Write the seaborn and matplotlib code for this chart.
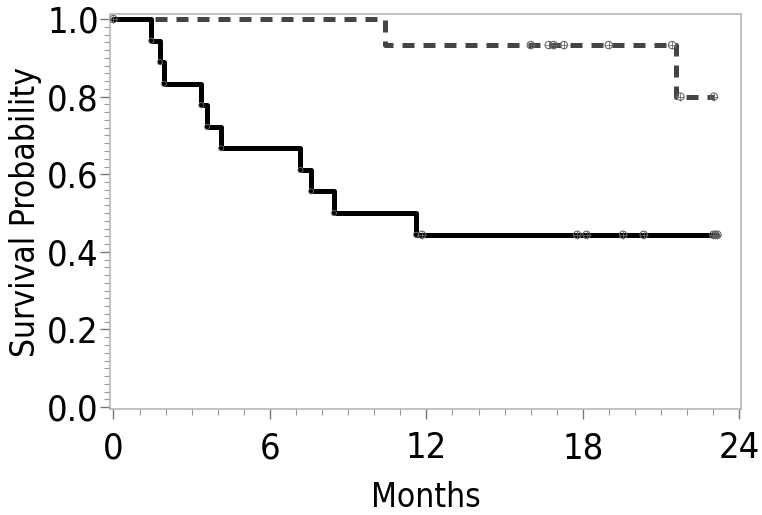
import numpy as np
import pandas as pd
import seaborn as sns
import matplotlib.pyplot as plt
from matplotlib.ticker import MultipleLocator

# group A (solid): event times and survival after each event
a_times = [0, 1.45, 1.78, 1.93, 3.37, 3.59, 4.13, 7.17, 7.58, 8.45, 11.6]
a_surv = [1.0, 0.944, 0.889, 0.833, 0.778, 0.722, 0.667, 0.611, 0.556, 0.5, 0.444]
a_end = 23.16
a_cens = [11.83, 17.78, 18.14, 19.54, 20.33, 23.0, 23.08, 23.16]

# group B (dashed)
b_times = [0, 10.43, 21.55]
b_surv = [1.0, 0.933, 0.8]
b_end = 23.02
b_cens_t = [0.0, 16.0, 16.69, 16.88, 17.27, 18.99, 21.42, 21.74, 23.02]
b_cens_s = [1.0, 0.933, 0.933, 0.933, 0.933, 0.933, 0.933, 0.8, 0.8]

x_ticks = [0, 6, 12, 18, 24]
y_ticks = [0.0, 0.2, 0.4, 0.6, 0.8, 1.0]


def step_frame(times, surv, end):
    return pd.DataFrame({'Months': list(times) + [end],
                         'Survival': list(surv) + [surv[-1]]})


sns.set_theme(style='white')
plt.rcParams['font.family'] = ['DejaVu Sans']
plt.rcParams['font.stretch'] = 'condensed'

fig = plt.figure(figsize=(7.62, 5.15), dpi=100)
ax = fig.add_axes([0.1444, 0.2058, 0.828, 0.767])

dfa = step_frame(a_times, a_surv, a_end)
dfb = step_frame(b_times, b_surv, b_end)

sns.lineplot(data=dfb, x='Months', y='Survival', ax=ax, estimator=None, sort=False,
             drawstyle='steps-post', color='#444444', linewidth=3.6,
             linestyle=(0, (2.4, 1.8)))
sns.lineplot(data=dfa, x='Months', y='Survival', ax=ax, estimator=None, sort=False,
             drawstyle='steps-post', color='black', linewidth=3.6)

# censor marks
a_cens_df = pd.DataFrame({'Months': a_cens, 'Survival': [a_surv[-1]] * len(a_cens)})
b_cens_df = pd.DataFrame({'Months': b_cens_t, 'Survival': b_cens_s})
for d in (a_cens_df, b_cens_df):
    sns.scatterplot(data=d, x='Months', y='Survival', ax=ax, marker='o', s=28,
                    facecolor='none', edgecolor='#666666', linewidth=0.8, zorder=5)
    sns.scatterplot(data=d, x='Months', y='Survival', ax=ax, marker='+', s=28,
                    color='#666666', linewidth=0.6, zorder=5)

# small open markers at step corners of solid line
corner_df = pd.DataFrame({'Months': a_times[1:], 'Survival': a_surv[1:]})
sns.scatterplot(data=corner_df, x='Months', y='Survival', ax=ax, marker='o', s=14,
                facecolor='none', edgecolor='#777777', linewidth=0.6, zorder=5)

ax.set_xlim(-0.13, 24.06)
ax.set_ylim(-0.005, 1.013)
ax.set_xticks(x_ticks)
ax.set_yticks(y_ticks)
ax.set_xticklabels([str(t) for t in x_ticks])
ax.set_yticklabels([f'{t:.1f}' for t in y_ticks])
ax.xaxis.set_minor_locator(MultipleLocator(1))
ax.yaxis.set_minor_locator(MultipleLocator(0.02))
ax.tick_params(axis='both', which='major', direction='out', length=7, width=1,
               color='#777777', labelsize=26, labelcolor='black')
ax.tick_params(axis='x', which='major', pad=9)
ax.tick_params(axis='y', which='major', pad=1)
ax.tick_params(axis='both', which='minor', direction='out', length=4, width=0.8,
               color='#999999')
ax.tick_params(axis='x', which='both', bottom=True)
ax.tick_params(axis='y', which='both', left=True)

for sp in ax.spines.values():
    sp.set_color('#b8b8b8')
    sp.set_linewidth(1.2)

ax.set_xlabel('Months', fontsize=24, labelpad=11, color='black')
ax.set_ylabel('Survival Probability', fontsize=24, labelpad=4, color='black')

fig.savefig('out.png', dpi=100)
